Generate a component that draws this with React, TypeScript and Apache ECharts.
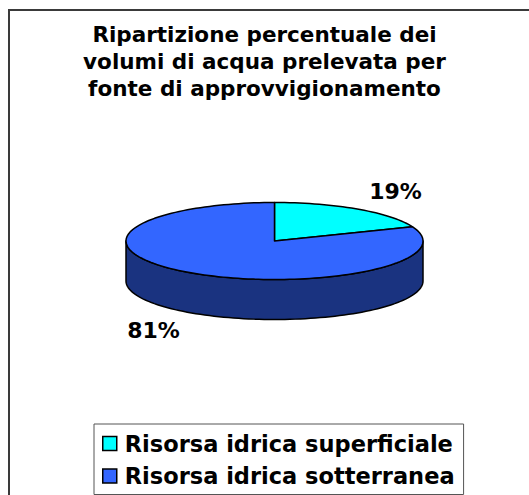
import React, { useEffect, useRef } from 'react';
import * as echarts from 'echarts';

const categories = ['Risorsa idrica superficiale', 'Risorsa idrica sotterranea'];
const values = [19, 81];
const topColors = ['#00FFFF', '#3366FF'];
const sideColors = ['#008B8B', '#1A3380'];
const titleLines = [
  'Ripartizione percentuale dei',
  'volumi di acqua prelevata per',
  'fonte di approvvigionamento',
];

const FONT = '"DejaVu Sans", Verdana, sans-serif';

export default function App() {
  const ref = useRef<HTMLDivElement>(null);
  useEffect(() => {
    const chart = echarts.init(ref.current!, null, { renderer: 'svg' });
    const total = values.reduce((a, b) => a + b, 0);
    const cx = 274.5, cy = 241, rx = 148.5, ry = 38.5, depth = 40;
    const pt = (deg: number, dy = 0) => {
      const r = (deg * Math.PI) / 180;
      return [cx + rx * Math.cos(r), cy - ry * Math.sin(r) + dy];
    };
    const renderItem = (params: any, api: any) => {
      const i = params.seriesIndex;
      const before = values.slice(0, i).reduce((a, b) => a + b, 0);
      const v = api.value(0);
      const a0 = 90 - (before / total) * 360;
      const a1 = a0 - (v / total) * 360;
      const children: any[] = [];
      const fronts = [[-540, -360], [-180, 0], [180, 360]];
      for (const [f0, f1] of fronts) {
        const s = Math.max(a1, f0), e = Math.min(a0, f1);
        if (e > s) {
          const pts: number[][] = [];
          const n = Math.max(4, Math.ceil((e - s) / 2));
          for (let k = 0; k <= n; k++) pts.push(pt(s + ((e - s) * k) / n));
          for (let k = n; k >= 0; k--) pts.push(pt(s + ((e - s) * k) / n, depth));
          children.push({
            type: 'polygon',
            shape: { points: pts },
            style: { fill: sideColors[i], stroke: '#000', lineWidth: 1.5, lineJoin: 'round' },
            z2: 1,
          });
        }
      }
      const top: number[][] = [[cx, cy]];
      const steps = Math.max(8, Math.ceil((a0 - a1) / 2));
      for (let k = 0; k <= steps; k++) top.push(pt(a0 - ((a0 - a1) * k) / steps));
      children.push({
        type: 'polygon',
        shape: { points: top },
        style: { fill: topColors[i], stroke: '#000', lineWidth: 1.5, lineJoin: 'round' },
        z2: 10,
      });
      const mid = ((a0 + a1) / 2) * Math.PI / 180;
      const lx = cx + 1.45 * rx * Math.cos(mid);
      const ly = cy - 1.55 * ry * Math.sin(mid) + (Math.sin(mid) < 0 ? depth : 0);
      children.push({
        type: 'text',
        x: lx,
        y: ly,
        style: {
          text: Math.round((v / total) * 100) + '%',
          font: `bold 22px ${FONT}`,
          fill: '#000',
          align: 'center',
          verticalAlign: 'middle',
        },
        z2: 20,
      });
      return { type: 'group', children };
    };

    chart.setOption({
      animation: false,
      backgroundColor: '#fff',
      title: {
        text: titleLines.join('\n'),
        left: 'center',
        top: 21,
        padding: [0, 0, 0, 7],
        textStyle: { fontFamily: FONT, fontWeight: 'bold', fontSize: 21.5, lineHeight: 27, color: '#000' },
      },
      legend: {
        orient: 'vertical',
        left: 94,
        top: 424,
        padding: [8, 9, 7, 8],
        itemGap: 9.5,
        itemWidth: 14,
        itemHeight: 14,
        icon: 'rect',
        borderColor: '#555',
        borderWidth: 1,
        backgroundColor: '#fff',
        itemStyle: { borderColor: '#000', borderWidth: 1.5 },
        textStyle: {
          fontFamily: FONT,
          fontWeight: 'bold',
          fontSize: 22.5,
          lineHeight: 22,
          color: '#000',
          padding: [0, 0, 0, 3],
        },
        data: categories,
      },
      graphic: [
        {
          type: 'rect',
          silent: true,
          shape: { x: 9, y: 10, width: 620, height: 600 },
          style: { fill: 'none', stroke: '#3a3a3a', lineWidth: 2 },
          z: -1,
        },
      ],
      series: categories.map((name, i) => ({
        type: 'custom',
        name,
        coordinateSystem: 'none',
        itemStyle: { color: topColors[i] },
        renderItem,
        data: [[values[i]]],
      })),
    });
    return () => chart.dispose();
  }, []);
  return <div ref={ref} style={{ position: 'absolute', left: 0, top: 0, width: 529, height: 495 }} />;
}
